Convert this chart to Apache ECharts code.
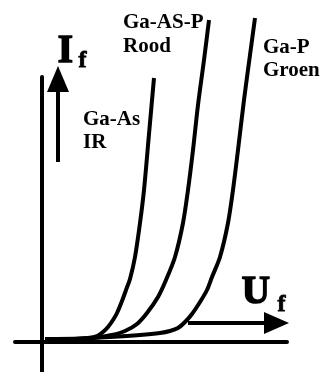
<!DOCTYPE html>
<html>
<head>
<meta charset="utf-8">
<script src="https://cdn.jsdelivr.net/npm/echarts@6/dist/echarts.min.js"></script>
<style>
  html, body { margin: 0; padding: 0; background: #fff; }
  #chart { width: 323px; height: 372px; }
</style>
</head>
<body>
<div id="chart"></div>
<script>
// forward voltage (arbitrary units) and forward current (arbitrary units)
var irU = [0.03, 0.33, 0.46, 0.55, 0.61, 0.66, 0.71, 0.75, 0.80, 0.84, 0.88, 0.93, 0.98, 1.02, 1.07, 1.12];
var irI = [0.03, 0.03, 0.04, 0.06, 0.10, 0.15, 0.22, 0.29, 0.41, 0.52, 0.63, 0.85, 1.19, 1.52, 2.08, 2.64];

var roodU = [0.03, 0.33, 0.46, 0.58, 0.70, 0.83, 0.95, 1.05, 1.16, 1.24, 1.33, 1.41, 1.46, 1.51, 1.56, 1.62, 1.67];
var roodI = [0.03, 0.03, 0.035, 0.05, 0.07, 0.11, 0.18, 0.29, 0.45, 0.62, 0.85, 1.19, 1.52, 1.92, 2.37, 2.82, 3.22];

var groenU = [0.03, 0.38, 0.68, 0.98, 1.18, 1.28, 1.36, 1.43, 1.50, 1.58, 1.65, 1.70, 1.78, 1.86, 1.91, 1.96, 2.02, 2.08, 2.13];
var groenI = [0.03, 0.035, 0.05, 0.07, 0.09, 0.11, 0.14, 0.20, 0.28, 0.40, 0.52, 0.65, 0.85, 1.19, 1.52, 1.92, 2.42, 2.87, 3.24];

var curveNames = ['Ga-As IR', 'Ga-AS-P Rood', 'Ga-P Groen'];

function pairs(u, i) {
    var out = [];
    for (var k = 0; k < u.length; k++) {
        out.push([u[k], i[k]]);
    }
    return out;
}

var font = '"Liberation Serif", "Times New Roman", serif';

function label(text, x, y, size, heavy) {
    var style = {
        text: text,
        fill: '#000',
        font: 'bold ' + size + 'px ' + font
    };
    if (heavy) {
        // axis symbols are drawn heavier in the picture
        style.stroke = '#000';
        style.lineWidth = heavy;
    }
    return { type: 'text', left: x, top: y, style: style };
}

var dom = document.getElementById('chart');
var myChart = echarts.init(dom, null, { renderer: 'canvas' });

var curves = [pairs(irU, irI), pairs(roodU, roodI), pairs(groenU, groenI)];

var option = {
    animation: false,
    backgroundColor: '#fff',
    grid: { left: 15, right: 36, top: 77, bottom: 0 },
    xAxis: {
        type: 'value',
        min: -0.27,
        max: 2.45,
        axisLine: { show: true, onZero: true, lineStyle: { color: '#000', width: 4 } },
        axisTick: { show: false },
        axisLabel: { show: false },
        splitLine: { show: false }
    },
    yAxis: {
        type: 'value',
        min: -0.30,
        max: 2.65,
        axisLine: { show: true, onZero: true, lineStyle: { color: '#000', width: 4 } },
        axisTick: { show: false },
        axisLabel: { show: false },
        splitLine: { show: false }
    },
    series: curves.map(function (d, n) {
        return {
            name: curveNames[n],
            type: 'line',
            data: d,
            smooth: 0.3,
            clip: false,
            symbol: 'none',
            lineStyle: { color: '#000', width: 4 }
        };
    }),
    graphic: [
        // If arrow
        { type: 'line', shape: { x1: 58, y1: 162, x2: 58, y2: 86 }, style: { stroke: '#000', lineWidth: 4 } },
        { type: 'polygon', shape: { points: [[58, 66], [47, 92], [69, 92]] }, style: { fill: '#000' } },
        // Uf arrow
        { type: 'line', shape: { x1: 188, y1: 323, x2: 270, y2: 323 }, style: { stroke: '#000', lineWidth: 4 } },
        { type: 'polygon', shape: { points: [[289, 323], [264, 312], [264, 334]] }, style: { fill: '#000' } },
        label('I', 57, 32, 39, 1.6),
        label('f', 78, 48, 24, 0.8),
        label('U', 241, 273, 39, 1.6),
        label('f', 277, 292, 24, 0.8),
        label('Ga-As', 83, 109, 21),
        label('IR', 83, 132, 21),
        label('Ga-AS-P', 123, 12, 21),
        label('Rood', 123, 36, 21),
        label('Ga-P', 263, 37, 21),
        label('Groen', 263, 60, 21)
    ]
};

myChart.setOption(option);
window.addEventListener('resize', myChart.resize);
</script>
</body>
</html>
